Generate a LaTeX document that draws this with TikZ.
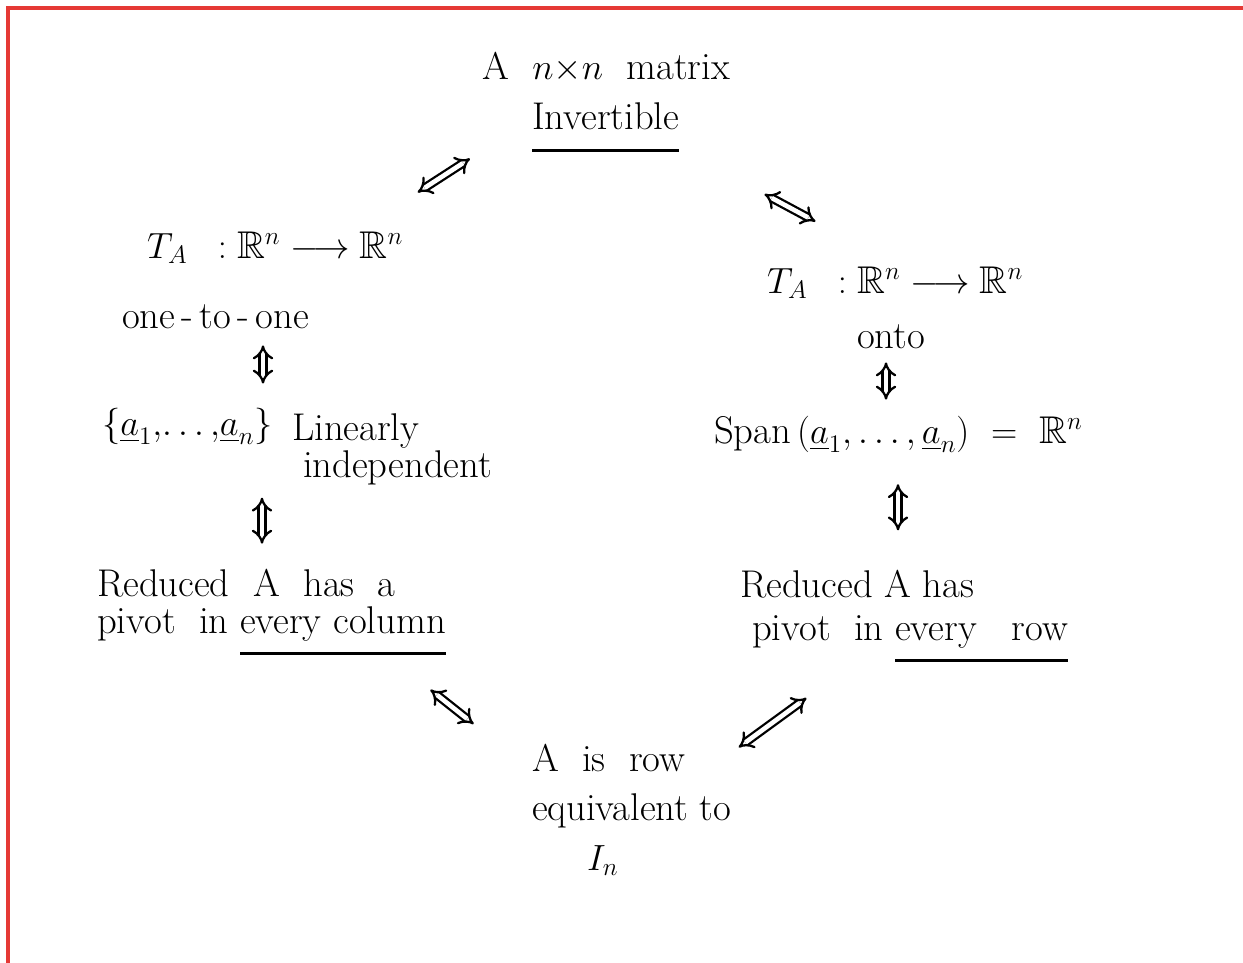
\documentclass[tikz,border=0pt]{standalone}
\usepackage{amsmath,amssymb}
\usetikzlibrary{arrows.meta}

\definecolor{framered}{RGB}{229,57,53}
% thick handwritten underline
\newcommand{\hul}[1]{\setbox0=\hbox{#1}\rlap{\vrule width\wd0 height -11pt depth 12.7pt}\box0}

\begin{document}
\begin{tikzpicture}[
  hw/.style={font=\fontsize{22}{#1}\selectfont,inner sep=1pt},
  hw/.default=26,
  equiv/.style={double,double distance=2.6pt,line width=1.3pt,{Implies}-{Implies}}
]
\useasboundingbox (0,0) rectangle (24.86,-19.26);
\draw[framered,line width=2.2pt] (0.16,-19.26) -- (0.16,-0.16) -- (24.86,-0.16);

% top
\node[hw,anchor=base west] (hdr) at (9.6,-1.6) {A\ \ $n{\times}n$\ \ matrix};
\node[hw,anchor=base west] (inv) at (10.6,-2.6) {\hul{Invertible}};

% left column (multi-line nodes sit on their last baseline)
\node[hw,anchor=base west] (lta) at (2.9,-5.16) {$T_A\;\;:\mathbb{R}^n\longrightarrow\mathbb{R}^n$};
\node[hw,anchor=base west] (oto) at (2.4,-6.56) {one\,-\,to\,-\,one};
\node[hw,anchor=base west] (vecs) at (2.0,-8.7) {$\{\underline{a}_1,\!\dots,\!\underline{a}_n\}$};
\node[hw=21,anchor=base west,align=left] (linind) at (5.8,-9.54) {Linearly\\\hspace*{0.22cm}independent};
\node[hw=21,anchor=base west,align=left] (redl) at (1.9,-12.66) {Reduced\ \ A\ \ has\ \ a\\pivot\ \ in \hul{every column}};

% right column
\node[hw,anchor=base west] (rta) at (15.3,-5.86) {$T_A\;\;:\mathbb{R}^n\longrightarrow\mathbb{R}^n$};
\node[hw,anchor=base west] (onto) at (17.1,-6.96) {onto};
\node[hw,anchor=base west] (span) at (14.24,-8.86) {Span$\,(\underline{a}_1,\dots,\underline{a}_n)\ =\ \mathbb{R}^n$};
\node[hw=24,anchor=base west,align=left] (redr) at (14.76,-12.8) {Reduced A has\\\hspace*{0.24cm}pivot\ \ in \hul{every\ \ \ row}};

% bottom
\node[hw=28,anchor=base west,align=left] (row) at (10.6,-17.4) {A\ \ is\ \ row\\equivalent to\\\hspace*{1.1cm}$I_n$};

% equivalences
\draw[equiv,shorten <=1.43cm,shorten >=1.36cm] (inv.174) -- (lta.12);
\draw[equiv,shorten <=1.89cm,shorten >=1.81cm] (inv.344) -- (rta.north);
\draw[equiv,shorten <=0.3cm,shorten >=0.44cm] (oto.south -| 5.26,0) -- (vecs.north -| 5.26,0);
\draw[equiv,shorten <=0.22cm,shorten >=0.46cm] (linind.south -| 5.24,0) -- (redl.north -| 5.24,0);
\draw[equiv,shorten <=0.24cm,shorten >=0.28cm] (onto.south -| 17.72,0) -- (span.north -| 17.72,0);
\draw[equiv,shorten <=0.6cm,shorten >=0.76cm] (span.south -| 17.96,0) -- (redr.north -| 17.96,0);
\draw[equiv,shorten <=1.04cm,shorten >=1.44cm] (redl.339) -- (row.158);
\draw[equiv,shorten <=0.13cm,shorten >=1.14cm] (row.30) -- (redr.223);
\end{tikzpicture}
\end{document}
